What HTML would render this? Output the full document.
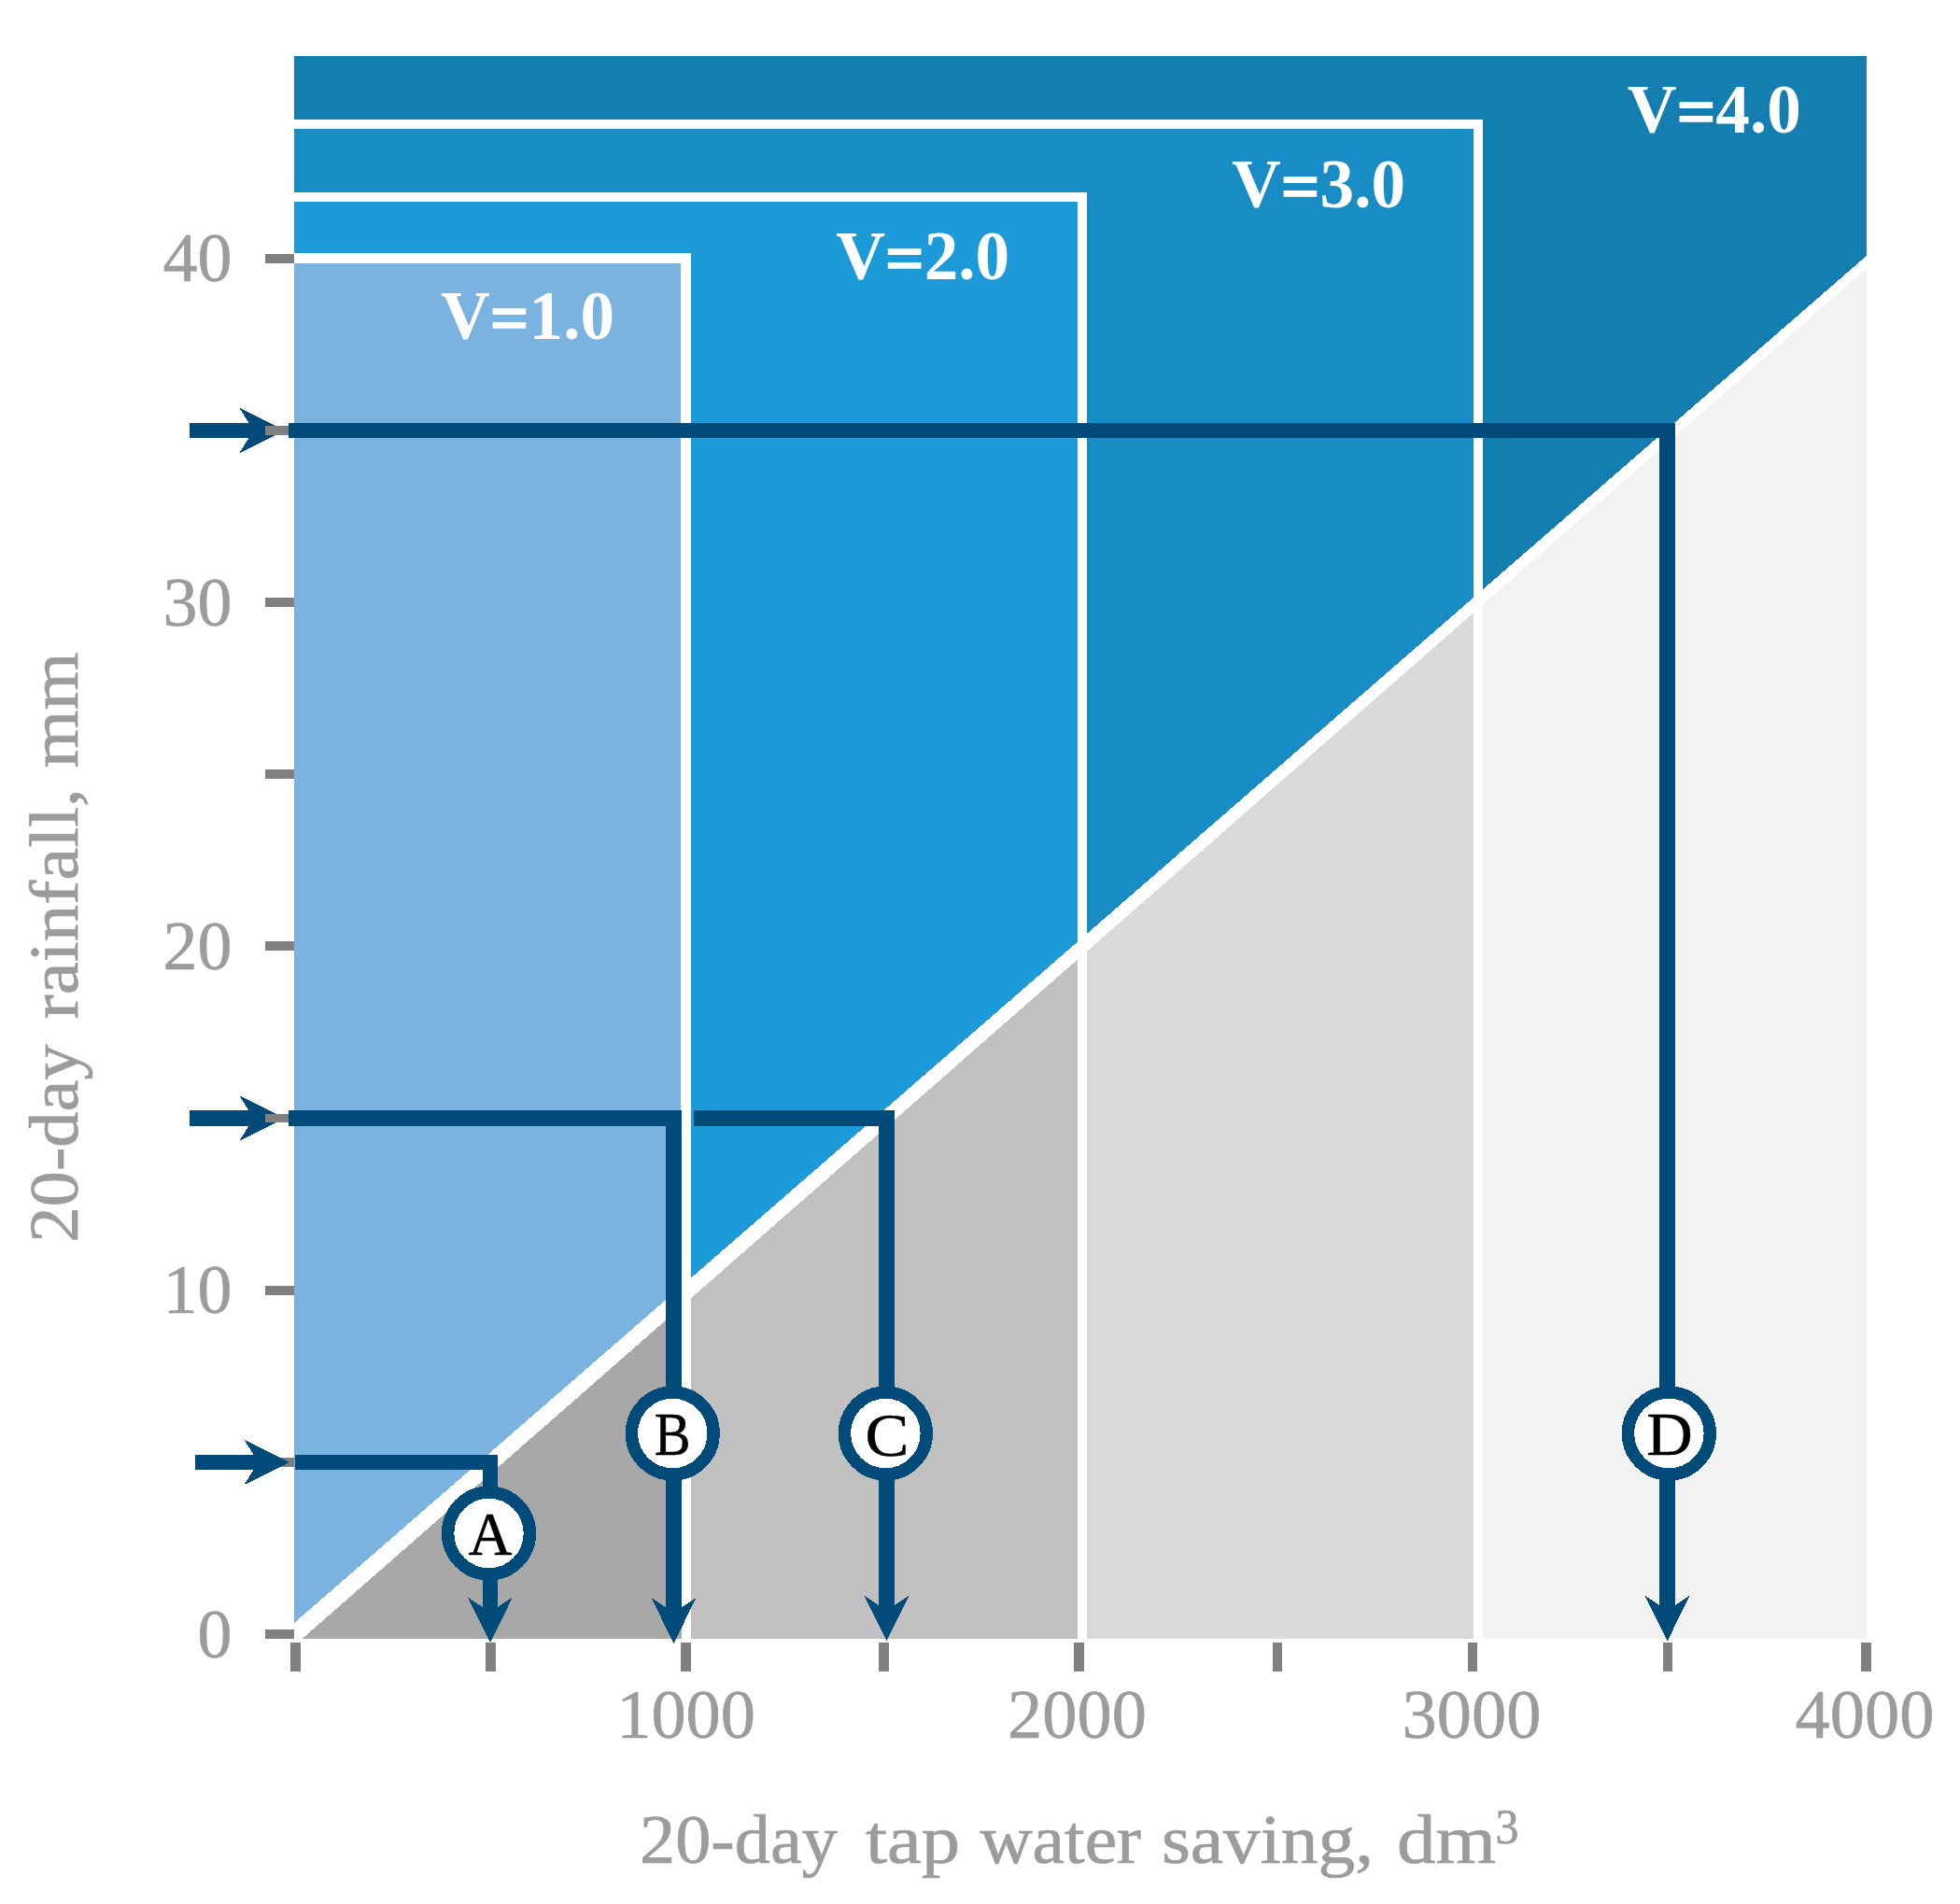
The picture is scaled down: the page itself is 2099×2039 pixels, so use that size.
<!DOCTYPE html>
<html lang="en"><head><meta charset="utf-8"><title>20-day rainfall vs tap water saving</title>
<style>html,body{margin:0;padding:0;background:#fff}svg{display:block}</style></head>
<body>
<svg width="2099" height="2039" viewBox="0 0 2099 2039" shape-rendering="crispEdges">
<rect width="2099" height="2039" fill="#fff"/>
<polygon fill="#147EB1" points="315,60 1999,60 1999,273.8 315,1738.0"/>
<polygon fill="#188CC5" points="315,133 1583,133 1583,635.5 315,1738.0"/>
<polyline fill="none" stroke="#fff" stroke-width="10.3" stroke-linejoin="miter" points="315,133 1583,133 1583,643.5"/>
<polygon fill="#1D9BD8" points="315,211.1 1159,211.1 1159,1004.1 315,1738.0"/>
<polyline fill="none" stroke="#fff" stroke-width="10.3" stroke-linejoin="miter" points="315,211.1 1159,211.1 1159,1012.1"/>
<polygon fill="#7AB3E0" points="315,276.55 734.8,276.55 734.8,1373.0 315,1738.0"/>
<polyline fill="none" stroke="#fff" stroke-width="11.1" stroke-linejoin="miter" points="315,276.55 734.55,276.55 734.55,1381.0"/>
<polygon fill="#A8A8A8" points="323.9,1754.7 734.8,1754.7 734.8,1394.8 323.9,1754.7"/>
<polygon fill="#C0C0C0" points="734.8,1754.7 1159,1754.7 1159,1023.2 734.8,1394.8"/>
<polygon fill="#DADADA" points="1159,1754.7 1583,1754.7 1583,651.9 1159,1023.2"/>
<polygon fill="#F2F2F2" points="1583,1754.7 1999,1754.7 1999,287.5 1583,651.9"/>
<rect fill="#fff" x="729.65" y="1371.0" width="10.3" height="383.7"/>
<rect fill="#fff" x="1153.85" y="1002.1" width="10.3" height="752.6"/>
<rect fill="#fff" x="1577.85" y="633.5" width="10.3" height="1121.2"/>
<rect fill="#808080" x="311.10" y="1759" width="10.6" height="30.8"/>
<rect fill="#808080" x="520.20" y="1759" width="10.6" height="30.8"/>
<rect fill="#808080" x="729.30" y="1759" width="10.6" height="30.8"/>
<rect fill="#808080" x="941.20" y="1759" width="10.6" height="30.8"/>
<rect fill="#808080" x="1150.30" y="1759" width="10.6" height="30.8"/>
<rect fill="#808080" x="1362.70" y="1759" width="10.6" height="30.8"/>
<rect fill="#808080" x="1571.80" y="1759" width="10.6" height="30.8"/>
<rect fill="#808080" x="1780.70" y="1759" width="10.6" height="30.8"/>
<rect fill="#808080" x="1993.00" y="1759" width="10.6" height="30.8"/>
<rect fill="#808080" x="284" y="1560.85" width="31" height="9.8"/>
<rect fill="#004B7A" x="209" y="1558.00" width="70.5" height="15.8"/><path fill="#004B7A" d="M310,1565.9 L261.5,1541.8 L276.5,1565.9 L261.5,1590.0Z"/>
<rect fill="#004B7A" x="203" y="1189.40" width="71.5" height="16.2"/><path fill="#004B7A" d="M305,1197.5 L256.5,1173.4 L271.5,1197.5 L256.5,1221.6Z"/>
<rect fill="#004B7A" x="203" y="452.90" width="71.5" height="16.2"/><path fill="#004B7A" d="M305,461 L256.5,436.9 L271.5,461 L256.5,485.1Z"/>
<rect fill="#808080" x="284" y="1745.00" width="31" height="9.8"/>
<rect fill="#808080" x="284" y="1376.70" width="31" height="9.8"/>
<rect fill="#808080" x="284" y="1192.55" width="31" height="9.8"/>
<rect fill="#808080" x="284" y="1008.40" width="31" height="9.8"/>
<rect fill="#808080" x="284" y="824.25" width="31" height="9.8"/>
<rect fill="#808080" x="284" y="640.10" width="31" height="9.8"/>
<rect fill="#808080" x="284" y="455.95" width="31" height="9.8"/>
<rect fill="#808080" x="284" y="271.80" width="31" height="9.8"/>
<path fill="none" stroke="#004B7A" stroke-width="16.6" stroke-linejoin="miter" d="M309,461 L1785.5,461 L1785.5,1735"/><path fill="#004B7A" d="M1785.6,1757.5 L1761.5,1708.7 L1785.6,1724.7 L1809.7,1708.7Z"/>
<path fill="none" stroke="#004B7A" stroke-width="16.6" stroke-linejoin="miter" d="M309,1197.5 L721.4,1197.5 L721.4,1735"/><path fill="#004B7A" d="M721.5,1759.8 L697.4,1711.0 L721.5,1727.0 L745.6,1711.0Z"/>
<path fill="none" stroke="#004B7A" stroke-width="16.6" stroke-linejoin="miter" d="M743,1197.5 L949.4,1197.5 L949.4,1735"/><path fill="#004B7A" d="M949.5,1757.5 L925.4,1708.7 L949.5,1724.7 L973.6,1708.7Z"/>
<path fill="none" stroke="#004B7A" stroke-width="16.6" stroke-linejoin="miter" d="M315.9,1565.9 L525,1565.9 L525,1735"/><path fill="#004B7A" d="M524.9,1759.2 L500.8,1710.4 L524.9,1726.4 L549.0,1710.4Z"/>
<circle cx="523.5" cy="1642" r="43.9" fill="#fff" stroke="#004B7A" stroke-width="13.4"/>
<circle cx="720.3" cy="1535" r="43.9" fill="#fff" stroke="#004B7A" stroke-width="13.4"/>
<circle cx="948.4" cy="1535" r="43.9" fill="#fff" stroke="#004B7A" stroke-width="13.4"/>
<circle cx="1787.4" cy="1535" r="43.9" fill="#fff" stroke="#004B7A" stroke-width="13.4"/>
<text font-family="'Liberation Serif', serif" font-size="64.5" fill="#000" stroke="#000" stroke-width="0.5" x="525" y="1664.7" text-anchor="middle" textLength="47" lengthAdjust="spacingAndGlyphs">A</text>
<text font-family="'Liberation Serif', serif" font-size="64.5" fill="#000" stroke="#000" stroke-width="0.5" x="720.2" y="1558" text-anchor="middle" textLength="39" lengthAdjust="spacingAndGlyphs">B</text>
<text font-family="'Liberation Serif', serif" font-size="64.5" fill="#000" stroke="#000" stroke-width="0.5" x="950" y="1558.6" text-anchor="middle" textLength="47" lengthAdjust="spacingAndGlyphs">C</text>
<text font-family="'Liberation Serif', serif" font-size="64.5" fill="#000" stroke="#000" stroke-width="0.5" x="1788" y="1557.6" text-anchor="middle" textLength="49.5" lengthAdjust="spacingAndGlyphs">D</text>
<text font-family="'Liberation Serif', serif" font-weight="bold" font-size="75" fill="#fff" x="472.0" y="363.2" textLength="186" lengthAdjust="spacingAndGlyphs">V<tspan dy="3.2" stroke="#fff" stroke-width="1.6">=</tspan><tspan dy="-3.2">1.0</tspan></text>
<text font-family="'Liberation Serif', serif" font-weight="bold" font-size="75" fill="#fff" x="895.2" y="299" textLength="186" lengthAdjust="spacingAndGlyphs">V<tspan dy="3.2" stroke="#fff" stroke-width="1.6">=</tspan><tspan dy="-3.2">2.0</tspan></text>
<text font-family="'Liberation Serif', serif" font-weight="bold" font-size="75" fill="#fff" x="1319.0" y="221.5" textLength="186" lengthAdjust="spacingAndGlyphs">V<tspan dy="3.2" stroke="#fff" stroke-width="1.6">=</tspan><tspan dy="-3.2">3.0</tspan></text>
<text font-family="'Liberation Serif', serif" font-weight="bold" font-size="75" fill="#fff" x="1742.8" y="142" textLength="186" lengthAdjust="spacingAndGlyphs">V<tspan dy="3.2" stroke="#fff" stroke-width="1.6">=</tspan><tspan dy="-3.2">4.0</tspan></text>
<text font-family="'Liberation Serif', serif" font-size="74" fill="#9C9C9C" stroke="#9C9C9C" stroke-width="0.6" x="734.6" y="1860.5" text-anchor="middle" textLength="148.8" lengthAdjust="spacingAndGlyphs">1000</text>
<text font-family="'Liberation Serif', serif" font-size="74" fill="#9C9C9C" stroke="#9C9C9C" stroke-width="0.6" x="1153.5" y="1860.5" text-anchor="middle" textLength="148.8" lengthAdjust="spacingAndGlyphs">2000</text>
<text font-family="'Liberation Serif', serif" font-size="74" fill="#9C9C9C" stroke="#9C9C9C" stroke-width="0.6" x="1576" y="1860.5" text-anchor="middle" textLength="148.8" lengthAdjust="spacingAndGlyphs">3000</text>
<text font-family="'Liberation Serif', serif" font-size="74" fill="#9C9C9C" stroke="#9C9C9C" stroke-width="0.6" x="1997" y="1860.5" text-anchor="middle" textLength="148.8" lengthAdjust="spacingAndGlyphs">4000</text>
<text font-family="'Liberation Serif', serif" font-size="74" fill="#9C9C9C" stroke="#9C9C9C" stroke-width="0.6" x="248.5" y="1774.5" text-anchor="end">0</text>
<text font-family="'Liberation Serif', serif" font-size="74" fill="#9C9C9C" stroke="#9C9C9C" stroke-width="0.6" x="248.5" y="1406.2" text-anchor="end">10</text>
<text font-family="'Liberation Serif', serif" font-size="74" fill="#9C9C9C" stroke="#9C9C9C" stroke-width="0.6" x="248.5" y="1037.9" text-anchor="end">20</text>
<text font-family="'Liberation Serif', serif" font-size="74" fill="#9C9C9C" stroke="#9C9C9C" stroke-width="0.6" x="248.5" y="669.6" text-anchor="end">30</text>
<text font-family="'Liberation Serif', serif" font-size="74" fill="#9C9C9C" stroke="#9C9C9C" stroke-width="0.6" x="248.5" y="301.3" text-anchor="end">40</text>
<g font-family="'Liberation Serif', serif" font-size="74" fill="#9C9C9C" stroke="#9C9C9C" stroke-width="0.7">
<text x="685" y="1995" textLength="212" lengthAdjust="spacingAndGlyphs">20-day</text>
<text x="927" y="1995" textLength="101.20000000000005" lengthAdjust="spacingAndGlyphs">tap</text>
<text x="1049.5" y="1995" textLength="172.5" lengthAdjust="spacingAndGlyphs">water</text>
<text x="1243.9" y="1995" textLength="227.29999999999995" lengthAdjust="spacingAndGlyphs">saving,</text>
<text x="1495.9" y="1995" textLength="106.19999999999982" lengthAdjust="spacingAndGlyphs">dm</text>
<text x="1601.5" y="1974" font-size="52" textLength="25" lengthAdjust="spacingAndGlyphs">3</text>
</g>
<g font-family="'Liberation Serif', serif" font-size="74" fill="#9C9C9C" stroke="#9C9C9C" stroke-width="0.7" transform="translate(83,1327.4) rotate(-90)">
<text x="-3" y="0" textLength="212" lengthAdjust="spacingAndGlyphs">20-day</text>
<text x="236" y="0" textLength="247" lengthAdjust="spacingAndGlyphs">rainfall,</text>
<text x="505" y="0" textLength="124" lengthAdjust="spacingAndGlyphs">mm</text>
</g>
</svg>
</body></html>
